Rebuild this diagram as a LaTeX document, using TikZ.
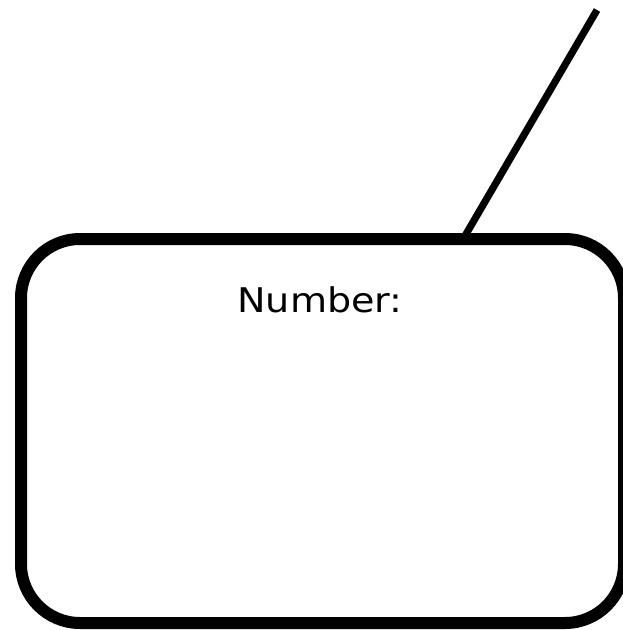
\documentclass[tikz,border=0pt]{standalone}
\usepackage{fontspec}
\newfontfamily\labelfont{DejaVu Sans}
\tikzset{
  frame/.style={draw=black, line width=12pt, rounded corners=59pt, fill=white,
    minimum width=603pt, minimum height=384pt, inner sep=0pt, outer sep=0pt},
  stick/.style={draw=black, line width=7.2pt},
  lbl/.style={font=\labelfont\fontsize{34}{40}\selectfont, inner sep=0pt}
}
\begin{document}
\begin{tikzpicture}[x=1pt,y=-1pt]
  \useasboundingbox (0,0) rectangle (623,630);
  \coordinate (tip) at (597,10);
  \coordinate (foot) at (462,241);
  \draw[stick] (tip) -- (foot);
  \node[frame] (box) at (322.5,431) {};
  \node[lbl] (number) at (320,300) {\scalebox{1.12}[1]{Number:}};
\end{tikzpicture}
\end{document}
